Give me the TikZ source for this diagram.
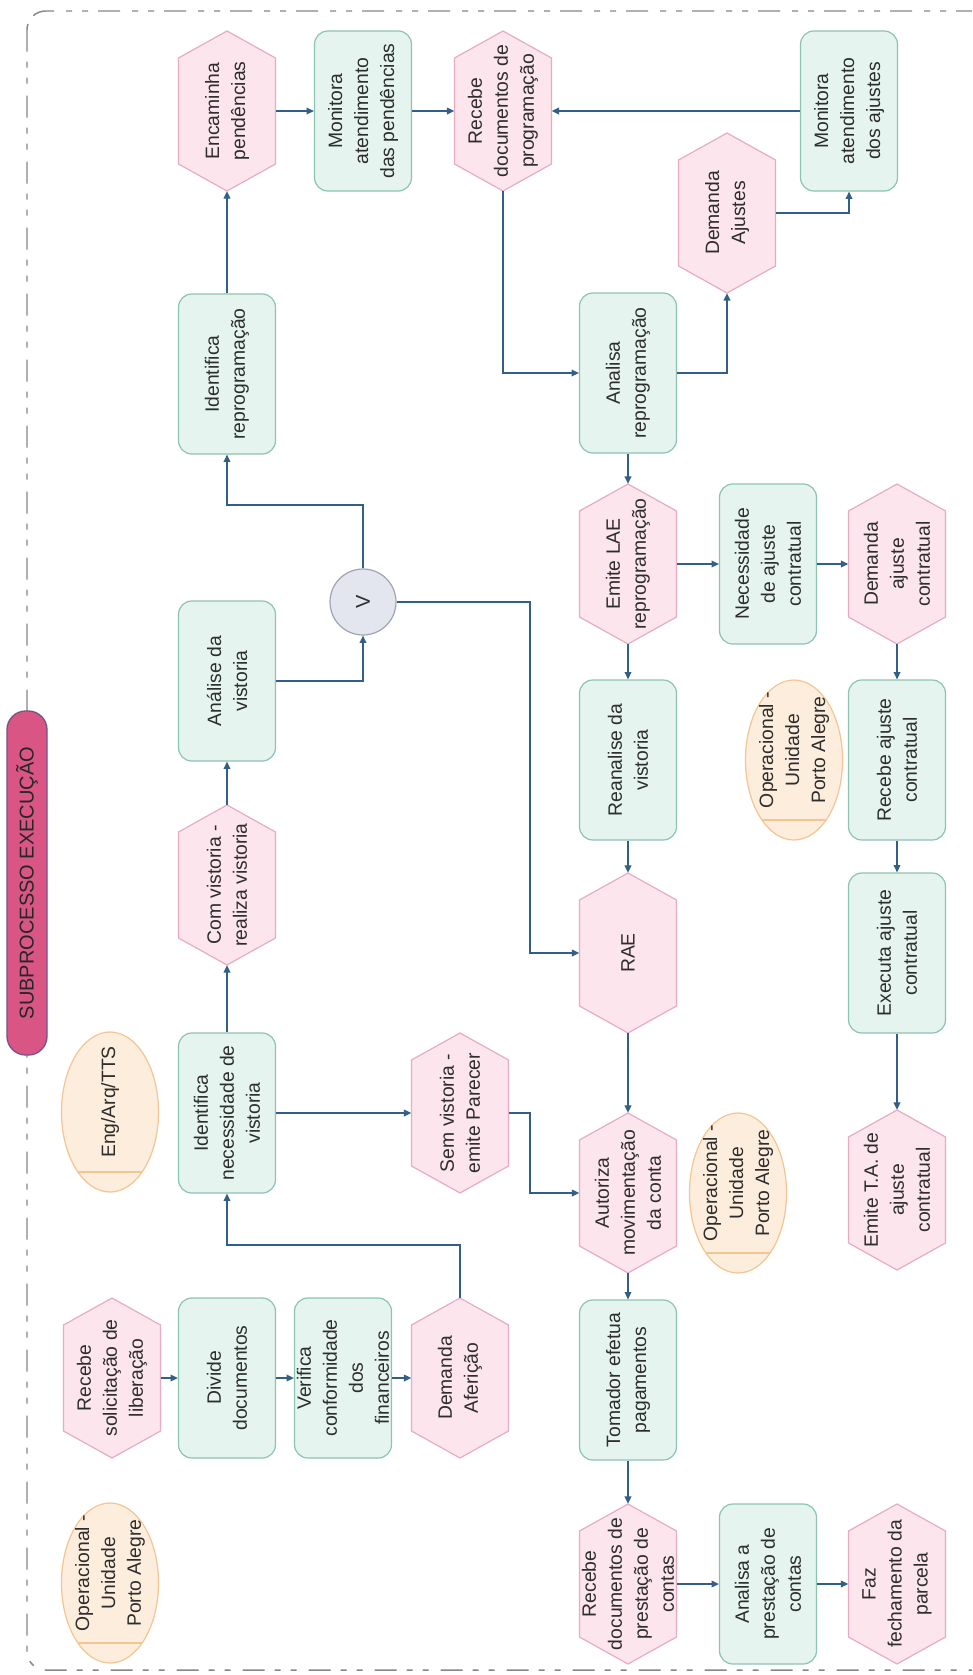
\documentclass[tikz,border=0pt]{standalone}
\usepackage{fontspec}
\setmainfont{Liberation Sans}
\usetikzlibrary{arrows.meta,calc,shapes.geometric}

\definecolor{boxfill}{RGB}{229,244,238}
\definecolor{boxline}{RGB}{140,196,176}
\definecolor{hexfill}{RGB}{252,229,236}
\definecolor{hexline}{RGB}{232,172,192}
\definecolor{ellfill}{RGB}{253,237,221}
\definecolor{ellline}{RGB}{244,196,146}
\definecolor{flow}{RGB}{50,95,135}
\definecolor{txt}{RGB}{45,45,45}
\definecolor{pillfill}{RGB}{217,86,132}
\definecolor{pillline}{RGB}{120,82,132}
\definecolor{gatefill}{RGB}{227,230,238}
\definecolor{gateline}{RGB}{158,164,178}
\definecolor{framegray}{RGB}{135,135,135}

\tikzset{
  every node/.style={font=\fontsize{14.5}{19.5}\selectfont, text=txt,
    align=center, rotate=90, inner sep=0pt},
  taskbox/.style={rectangle, rounded corners=10pt, draw=boxline, fill=boxfill,
    line width=0.9pt, minimum width=120pt, minimum height=72.75pt},
  hexbox/.style={rectangle, minimum width=120pt, minimum height=72.75pt},
  hexpath/.style={draw=hexline, fill=hexfill, line width=0.9pt},
  actorpath/.style={draw=ellline, fill=ellfill, line width=0.9pt},
  actorline/.style={draw=ellline, line width=0.9pt},
  gatenode/.style={circle, draw=gateline, fill=gatefill, line width=0.9pt,
    minimum size=49.5pt, font=\fontsize{15}{18}\selectfont},
  titlepill/.style={rectangle, rounded corners=14pt, draw=pillline, fill=pillfill,
    line width=1pt, minimum width=258pt, minimum height=30pt,
    font=\fontsize{15}{18}\selectfont, text=black!85},
  framestyle/.style={draw=framegray, line width=1.1pt,
    dash pattern=on 16.5pt off 7.5pt on 4.5pt off 7.5pt on 4.5pt off 9pt},
  flowarrow/.style={draw=flow, line width=1.1pt,
    -{Triangle[length=5.5pt,width=5pt]}},
}

% pink hexagon step: name, centre x, centre y, label
\newcommand{\hexstep}[4]{%
  \path[hexpath] (#2-48.5,#3-53) -- (#2,#3-80) -- (#2+48.5,#3-53)
     -- (#2+48.5,#3+53) -- (#2,#3+80) -- (#2-48.5,#3+53) -- cycle;
  \node[hexbox] (#1) at (#2,#3) {#4};}

% actor ellipse with a base line: name, centre x, centre y, label
\newcommand{\actor}[4]{%
  \path[actorpath] (#2,#3) ellipse [x radius=36.4pt, y radius=60pt];
  \draw[actorline] (#2-32,#3+60) -- (#2+32,#3+60);
  \node (#1) at (#2,#3-10) {#4};}

\begin{document}
\begin{tikzpicture}[x=0.75pt,y=-0.75pt]
\useasboundingbox (0,0) rectangle (972,1675);
\clip (0,0) rectangle (972,1675);
\fill[white] (0,0) rectangle (972,1675);

% swimlane frame
\draw[framestyle, rounded corners=14pt] (27,11) rectangle (1010,1670);
\node[titlepill] (title) at (27,883) {SUBPROCESSO EXECUÇÃO};

% actors
\actor{op1}{110}{1583}{Operacional -\\Unidade\\Porto Alegre}
\actor{eng}{110}{1112}{Eng/Arq/TTS}
\actor{op2}{794}{760}{Operacional -\\Unidade\\Porto Alegre}
\actor{op3}{738}{1193}{Operacional -\\Unidade\\Porto Alegre}

% green tasks
\node[taskbox] (idrep) at (227,374) {Identifica\\reprogramação};
\node[taskbox] (monp) at (363,111) {Monitora\\atendimento\\das pendências};
\node[taskbox] (anrep) at (628,373) {Analisa\\reprogramação};
\node[taskbox] (mona) at (849,111) {Monitora\\atendimento\\dos ajustes};
\node[taskbox] (nec) at (768,564) {Necessidade\\de ajuste\\contratual};
\node[taskbox] (anvis) at (227,681) {Análise da\\vistoria};
\node[taskbox] (reanal) at (628,760) {Reanalise da\\vistoria};
\node[taskbox] (recaj) at (897,760) {Recebe ajuste\\contratual};
\node[taskbox] (exec) at (897,953) {Executa ajuste\\contratual};
\node[taskbox] (idnec) at (227,1113) {Identifica\\necessidade de\\vistoria};
\node[taskbox] (divide) at (227,1378) {Divide\\documentos};
\node[taskbox] (verif) at (343,1378) {Verifica\\conformidade\\dos\\financeiros};
\node[taskbox] (tomador) at (628,1380) {Tomador efetua\\pagamentos};
\node[taskbox] (anprest) at (768,1584) {Analisa a\\prestação de\\contas};

% pink steps
\hexstep{enc}{227}{111}{Encaminha\\pendências}
\hexstep{recprog}{503}{111}{Recebe\\documentos de\\programação}
\hexstep{demaj}{727}{213}{Demanda\\Ajustes}
\hexstep{emlae}{628}{564}{Emite LAE\\reprogramação}
\hexstep{demajc}{897}{564}{Demanda\\ajuste\\contratual}
\hexstep{comvis}{227}{885}{Com vistoria -\\realiza vistoria}
\hexstep{rae}{628}{953}{RAE}
\hexstep{semvis}{460}{1113}{Sem vistoria -\\emite Parecer}
\hexstep{autoriza}{628}{1193}{Autoriza\\movimentação\\da conta}
\hexstep{emta}{897}{1190}{Emite T.A. de\\ajuste\\contratual}
\hexstep{recsol}{112}{1378}{Recebe\\solicitação de\\liberação}
\hexstep{demaf}{460}{1378}{Demanda\\Aferição}
\hexstep{recprest}{628}{1584}{Recebe\\documentos de\\prestação de\\contas}
\hexstep{faz}{897}{1584}{Faz\\fechamento da\\parcela}

% decision gate
\node[gatenode] (gate) at (363,602) {V};

% bend points
\coordinate (gateup) at (363,505);
\coordinate (gatedown) at (530,953);
\coordinate (semdown) at (530,1193);
\coordinate (afup) at (460,1245);

% connectors
\draw[flowarrow] (idrep) -- (enc);
\draw[flowarrow] (enc) -- (monp);
\draw[flowarrow] (monp) -- (recprog);
\draw[flowarrow] (mona) -- (recprog);
\draw[flowarrow] (recprog) |- (anrep);
\draw[flowarrow] (anrep) -- (emlae);
\draw[flowarrow] (anrep) -| (demaj);
\draw[flowarrow] (demaj) -| (mona);
\draw[flowarrow] (emlae) -- (nec);
\draw[flowarrow] (nec) -- (demajc);
\draw[flowarrow] (demajc) -- (recaj);
\draw[flowarrow] (recaj) -- (exec);
\draw[flowarrow] (exec) -- (emta);
\draw[flowarrow] (emlae) -- (reanal);
\draw[flowarrow] (reanal) -- (rae);
\draw[flowarrow] (rae) -- (autoriza);
\draw[flowarrow] (autoriza) -- (tomador);
\draw[flowarrow] (tomador) -- (recprest);
\draw[flowarrow] (recprest) -- (anprest);
\draw[flowarrow] (anprest) -- (faz);
\draw[flowarrow] (anvis) -| (gate);
\draw[flowarrow] (gate) -- (gateup) -| (idrep);
\draw[flowarrow] (gate) -| (gatedown) -- (rae);
\draw[flowarrow] (comvis) -- (anvis);
\draw[flowarrow] (idnec) -- (comvis);
\draw[flowarrow] (idnec) -- (semvis);
\draw[flowarrow] (semvis) -| (semdown) -- (autoriza);
\draw[flowarrow] (recsol) -- (divide);
\draw[flowarrow] (divide) -- (verif);
\draw[flowarrow] (verif) -- (demaf);
\draw[flowarrow] (demaf) -- (afup) -| (idnec);
\end{tikzpicture}
\end{document}
